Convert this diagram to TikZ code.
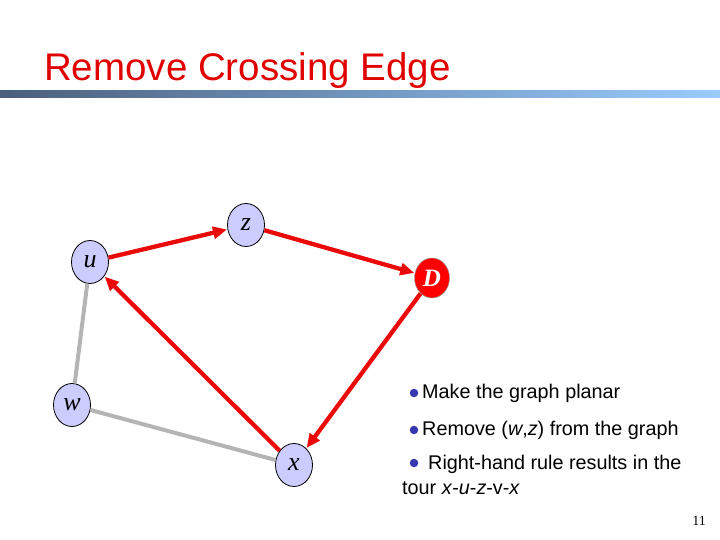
\documentclass[tikz,border=0pt]{standalone}
\usepackage{fontspec}
\setmainfont{Liberation Serif}
\newfontfamily\bodyfont{Liberation Sans}
\usetikzlibrary{arrows.meta,shapes.geometric}
\definecolor{titlered}{RGB}{225,0,0}
\definecolor{edgered}{RGB}{235,10,10}
\definecolor{nodefill}{RGB}{204,204,255}
\definecolor{bargray}{RGB}{180,180,180}
\definecolor{bardark}{RGB}{75,95,125}
\definecolor{barlight}{RGB}{153,204,255}
\definecolor{bulletblue}{RGB}{55,55,175}
\tikzset{
  vtx/.style={ellipse, draw=black, line width=0.8pt, fill=nodefill, minimum width=37pt, minimum height=43pt, inner sep=0pt, font=\fontsize{26}{28}\selectfont\itshape},
  dvtx/.style={ellipse, draw=black!40, line width=0.5pt, fill=red, minimum width=35pt, minimum height=40pt, inner sep=0pt, text=white, font=\fontsize{25}{28}\selectfont\bfseries\itshape},
  redarrow/.style={draw=edgered, line width=4.3pt, -{Triangle[length=14pt,width=12pt]}, shorten >=0.5pt},
  grayedge/.style={draw=bargray, line width=4pt},
  bodytext/.style={anchor=base west, inner sep=0pt, font=\bodyfont\fontsize{19.8}{22}\selectfont},
  bulletdot/.style={circle, fill=bulletblue, inner sep=0pt, minimum size=8.5pt}
}
\begin{document}
\begin{tikzpicture}[x=1pt,y=-1pt]
\useasboundingbox (0,0) rectangle (720,540);
% title
\node[anchor=base west, inner sep=0pt, text=titlered, font=\bodyfont\fontsize{38.5}{44}\selectfont] (title) at (44,81) {Remove Crossing Edge};
\shade[left color=bardark, right color=barlight] (0,91) rectangle (720,97.5);
% nodes
\node[vtx] (z) at (246,225) {z};
\node[vtx] (u) at (90,262) {u};
\node[dvtx] (D) at (432,278) {D};
\node[vtx] (w) at (72,405) {w};
\node[vtx] (x) at (294,465) {x};
% gray edges
\draw[grayedge] (u) -- (w);
\draw[grayedge] (w) -- (x);
% red arrows
\draw[redarrow] (u) -- (z);
\draw[redarrow] (z) -- (D);
\draw[redarrow] (D) -- (x);
\draw[redarrow] (x) -- (u);
% bullet text
\node[bulletdot] (b1) at (414,393) {};
\node[bodytext] (t1) at (422,398) {Make the graph planar};
\node[bulletdot] (b2) at (414,430) {};
\node[bodytext] (t2) at (422,435) {Remove (\textit{w},\textit{z}) from the graph};
\node[bulletdot] (b3) at (414,463) {};
\node[bodytext] (t3) at (428,469) {Right-hand rule results in the};
\node[bodytext] (t4) at (402,494) {tour \textit{x}-\textit{u}-\textit{z}-v-\textit{x}};
% page number
\node[anchor=base east, inner sep=0pt, font=\fontsize{14}{16}\selectfont] (pg) at (706,525) {11};
\end{tikzpicture}
\end{document}
